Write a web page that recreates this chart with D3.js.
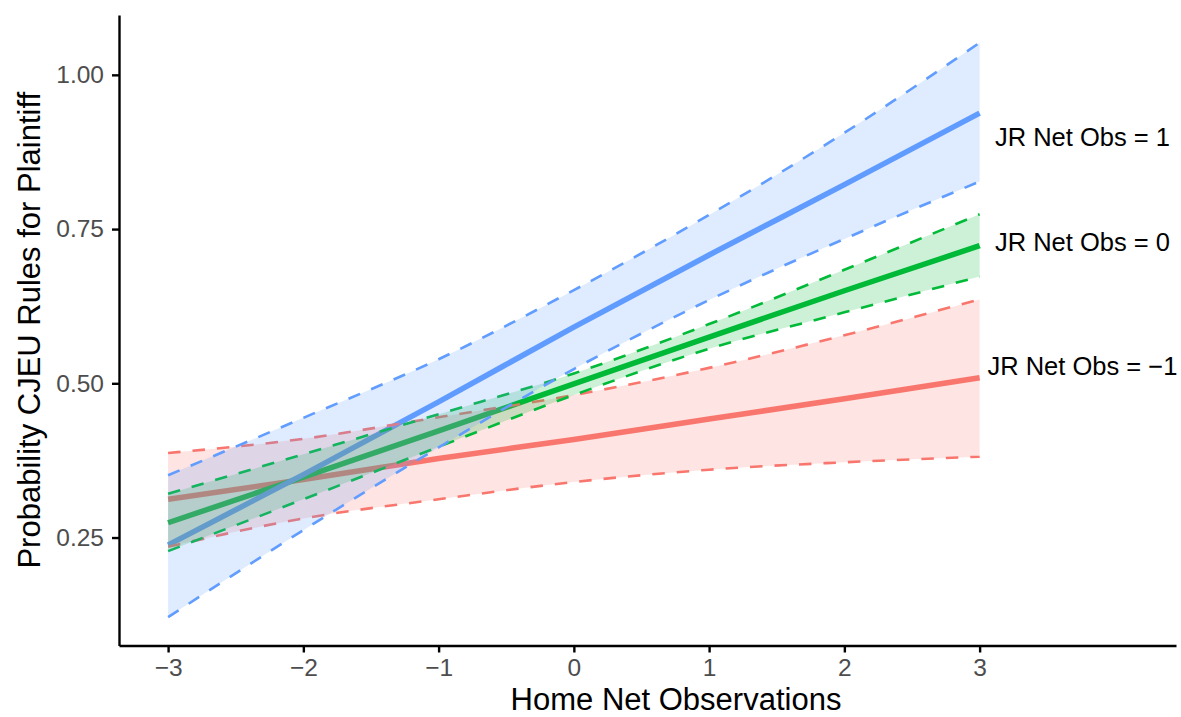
<!DOCTYPE html>
<html>
<head>
<meta charset="utf-8">
<script src="https://cdn.jsdelivr.net/npm/d3@7"></script>
<style>
	body { margin: 0; background: #fff; }
	svg { display: block; font-family: "Liberation Sans", Arial, sans-serif; }
	.axis path, .axis line { stroke: #000; stroke-width: 2.4; }
	.axis text { fill: #4D4D4D; font-size: 24.5px; font-family: "Liberation Sans", Arial, sans-serif; }
</style>
</head>
<body>
<script>
// x values (Home Net Observations)
var homeNetObs = [-3, -2, -1, 0, 1, 2, 3];

// JR Net Obs = -1
var fitLow   = [0.312, 0.344, 0.378, 0.409, 0.442, 0.475, 0.509];
var upperLow = [0.387, 0.410, 0.445, 0.481, 0.525, 0.578, 0.636];
var lowerLow = [0.235, 0.281, 0.312, 0.340, 0.360, 0.372, 0.381];

// JR Net Obs = 0
var fitZero   = [0.274, 0.348, 0.423, 0.499, 0.575, 0.650, 0.723];
var upperZero = [0.321, 0.385, 0.450, 0.516, 0.596, 0.684, 0.774];
var lowerZero = [0.228, 0.312, 0.397, 0.481, 0.556, 0.615, 0.673];

// JR Net Obs = 1
var fitOne   = [0.238, 0.352, 0.470, 0.591, 0.708, 0.822, 0.938];
var upperOne = [0.351, 0.444, 0.539, 0.651, 0.773, 0.906, 1.052];
var lowerOne = [0.121, 0.262, 0.396, 0.523, 0.635, 0.734, 0.827];

var seriesColors = ["#F8766D", "#00BA38", "#619CFF"];

// end-of-line labels
var labelText = ["JR Net Obs = \u22121", "JR Net Obs = 0", "JR Net Obs = 1"];
var labelX = [3.76, 3.76, 3.76];
var labelY = [0.528, 0.729, 0.899];

var xTicks = [-3, -2, -1, 0, 1, 2, 3];
var yTicks = [0.25, 0.50, 0.75, 1.00];

(function() {

	var width = 1181;
	var height = 717;

	var svg = d3.select("body")
		.append("svg")
		.attr("width", width)
		.attr("height", height);

	// panel edges
	var left = 119, right = 1176, top = 15, bottom = 645.5;

	var x = d3.scaleLinear()
		.domain([-3.363, 4.452])
		.range([left, right]);

	var y = d3.scaleLinear()
		.domain([0.075, 1.097])
		.range([bottom, top]);

	// build one object per group
	var groups = [
		{ fit: fitLow, upper: upperLow, lower: lowerLow },
		{ fit: fitZero, upper: upperZero, lower: lowerZero },
		{ fit: fitOne, upper: upperOne, lower: lowerOne }
	].map(function(g, i) {
		g.color = seriesColors[i];
		g.rows = homeNetObs.map(function(h, j) {
			return { x: h, fit: g.fit[j], upper: g.upper[j], lower: g.lower[j] };
		});
		return g;
	});

	var lineOf = function(key) {
		return d3.line()
			.curve(d3.curveMonotoneX)
			.x(function(d) { return x(d.x); })
			.y(function(d) { return y(d[key]); });
	};

	var area = d3.area()
		.curve(d3.curveMonotoneX)
		.x(function(d) { return x(d.x); })
		.y0(function(d) { return y(d.lower); })
		.y1(function(d) { return y(d.upper); });

	// fitted lines first
	svg.append("g")
		.selectAll("path")
		.data(groups)
		.enter()
		.append("path")
		.attr("d", function(d) { return lineOf("fit")(d.rows); })
		.attr("fill", "none")
		.attr("stroke", function(d) { return d.color; })
		.attr("stroke-width", 5.5);

	// ribbons with dashed outlines, group by group
	groups.forEach(function(g) {
		var rg = svg.append("g");
		rg.append("path")
			.attr("d", area(g.rows))
			.attr("fill", g.color)
			.attr("fill-opacity", 0.2);
		["upper", "lower"].forEach(function(k) {
			rg.append("path")
				.attr("d", lineOf(k)(g.rows))
				.attr("fill", "none")
				.attr("stroke", g.color)
				.attr("stroke-width", 2.6)
				.attr("stroke-dasharray", "12.5,12");
		});
	});

	// labels
	svg.append("g")
		.selectAll("text")
		.data(labelText)
		.enter()
		.append("text")
		.attr("x", function(d, i) { return x(labelX[i]); })
		.attr("y", function(d, i) { return y(labelY[i]); })
		.attr("dy", "0.36em")
		.attr("text-anchor", "middle")
		.style("font-size", "25.5px")
		.style("fill", "#000")
		.text(function(d) { return d; });

	var fmtMinus = function(d) { return d < 0 ? "\u2212" + Math.abs(d) : String(d); };

	// x axis
	svg.append("g")
		.attr("class", "x axis")
		.attr("transform", "translate(0," + bottom + ")")
		.call(d3.axisBottom(x).tickValues(xTicks).tickFormat(fmtMinus).tickSize(7).tickSizeOuter(0).tickPadding(6));

	// y axis
	svg.append("g")
		.attr("class", "y axis")
		.attr("transform", "translate(" + left + ",0)")
		.call(d3.axisLeft(y).tickValues(yTicks).tickFormat(d3.format(".2f")).tickSize(7).tickSizeOuter(0).tickPadding(8));

	// axis titles
	svg.append("text")
		.attr("x", 676)
		.attr("y", 710)
		.attr("text-anchor", "middle")
		.style("font-size", "31px")
		.text("Home Net Observations");

	svg.append("text")
		.attr("transform", "translate(40," + ((top + bottom) / 2) + ") rotate(-90)")
		.attr("text-anchor", "middle")
		.style("font-size", "31px")
		.text("Probability CJEU Rules for Plaintiff");

})();
</script>
</body>
</html>
